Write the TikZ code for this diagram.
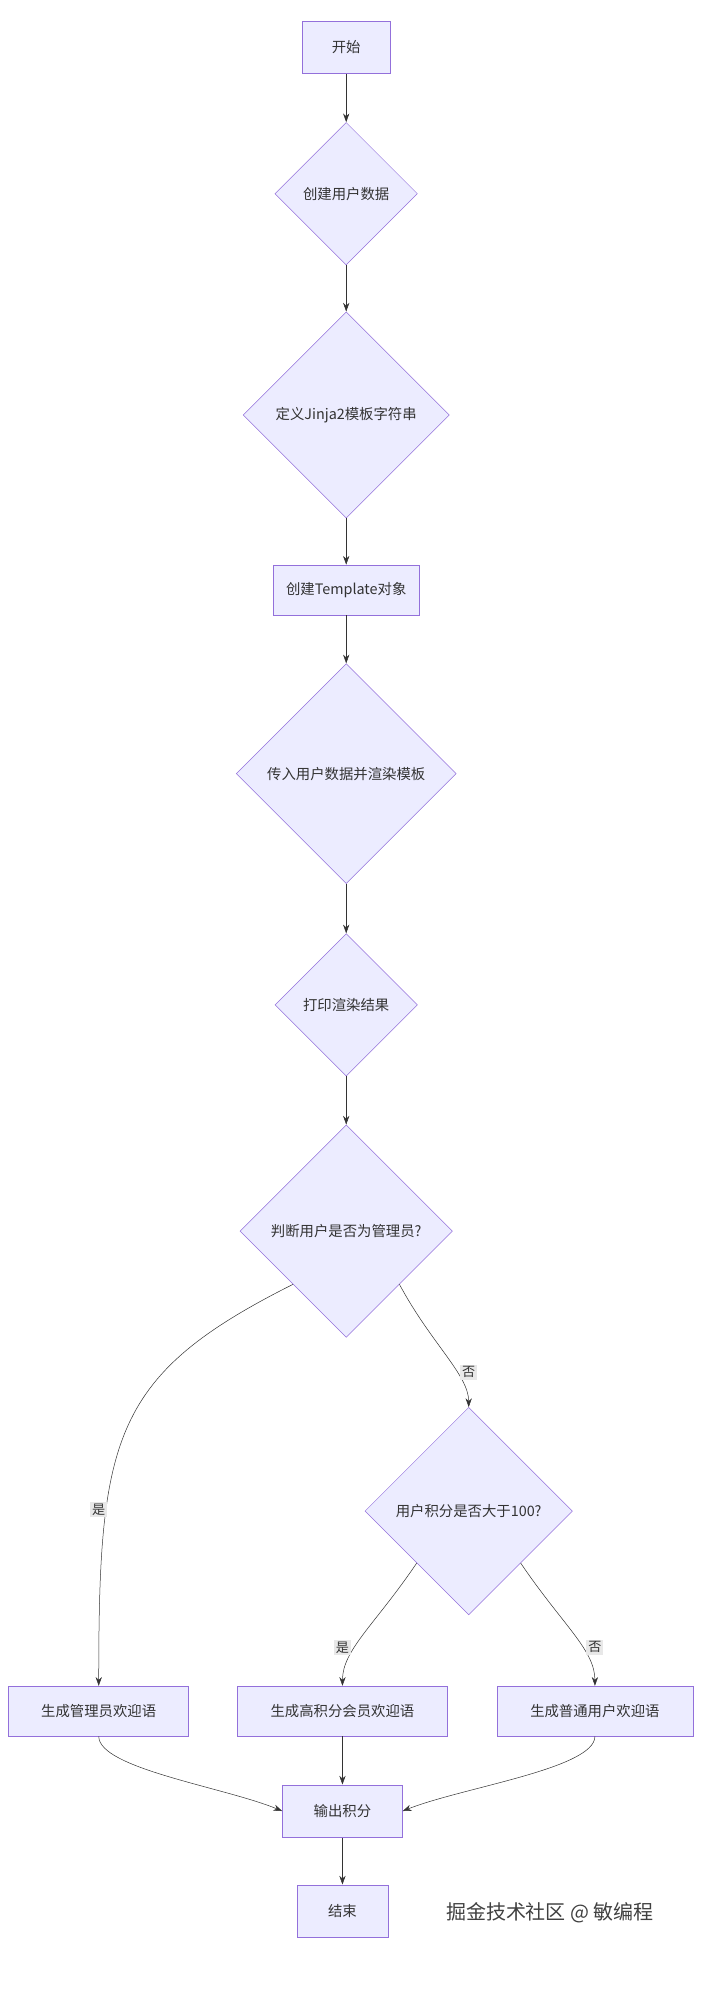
\documentclass[tikz,border=0pt]{standalone}
\usepackage{fontspec}
\setmainfont{Noto Sans CJK SC}
\usetikzlibrary{shapes.geometric,arrows.meta}
\definecolor{boxfill}{HTML}{ECECFF}
\definecolor{boxline}{HTML}{9370DB}
\definecolor{edgecol}{HTML}{333333}
\begin{document}
\begin{tikzpicture}
  [
    x = 1pt, y = -1pt,
    every node/.style = {font=\fontsize{11.5}{13}\selectfont, text=edgecol},
    proc/.style = {draw=boxline, fill=boxfill, minimum height=42pt, inner xsep=10pt},
    test/.style = {diamond, draw=boxline, fill=boxfill, inner sep=0pt,
      minimum width=#1, minimum height=#1},
    flow/.style = {draw=edgecol, -{Stealth[length=7pt,width=5pt]}},
    tag/.style = {fill=black!9, inner sep=1.5pt, font=\fontsize{10.5}{12}\selectfont},
  ]
  \useasboundingbox (0,0) rectangle (570,1593);

  \node[proc, minimum width=71pt] (start) at (277,38) {开始};
  \node[test=114pt] (mkdata) at (277,155) {创建用户数据};
  \node[test=165pt] (deftpl) at (277,332) {定义Jinja2模板字符串};
  \node[proc, minimum height=40pt] (mktpl) at (277,472) {创建Template对象};
  \node[test=176pt] (render) at (277,619) {传入用户数据并渲染模板};
  \node[test=114pt] (print) at (277,804) {打印渲染结果};
  \node[test=170pt] (isadmin) at (277,985) {判断用户是否为管理员?};
  \node[test=166pt] (isvip) at (375,1209) {用户积分是否大于100?};
  \node[proc, minimum height=40pt, minimum width=144pt] (admin) at (79,1369) {生成管理员欢迎语};
  \node[proc, minimum height=40pt, minimum width=168pt] (vip) at (274,1369) {生成高积分会员欢迎语};
  \node[proc, minimum height=40pt, minimum width=157pt] (normal) at (476,1369) {生成普通用户欢迎语};
  \node[proc, minimum width=96pt] (output) at (274,1449) {输出积分};
  \node[proc, minimum width=73pt] (finish) at (274,1529) {结束};

  \draw[flow] (start) -- (mkdata);
  \draw[flow] (mkdata) -- (deftpl);
  \draw[flow] (deftpl) -- (mktpl);
  \draw[flow] (mktpl) -- (render);
  \draw[flow] (render) -- (print);
  \draw[flow] (print) -- (isadmin);
  \draw[flow] (isadmin.south west) .. controls (90,1100) and (79,1150) .. (admin.north);
  \draw[flow] (isadmin.south east) .. controls (345,1075) and (375,1100) .. (isvip.north);
  \draw[flow] (isvip.south west) .. controls (300,1300) and (274,1320) .. (vip.north);
  \draw[flow] (isvip.south east) .. controls (450,1300) and (476,1320) .. (normal.north);
  \draw[flow] (admin.south) .. controls (79,1415) and (180,1430) .. (output.west);
  \draw[flow] (vip) -- (output);
  \draw[flow] (normal.south) .. controls (476,1415) and (370,1430) .. (output.east);
  \draw[flow] (output) -- (finish);

  % branch labels
  \node[tag] (yes1) at (79,1208) {是};
  \node[tag] (no1) at (375,1098) {否};
  \node[tag] (yes2) at (274,1318) {是};
  \node[tag] (no2) at (476,1318) {否};

  \node[font=\fontsize{16}{18}\selectfont, text=black!75] (mark) at (440,1530) {掘金技术社区 @ 敏编程};
\end{tikzpicture}
\end{document}
